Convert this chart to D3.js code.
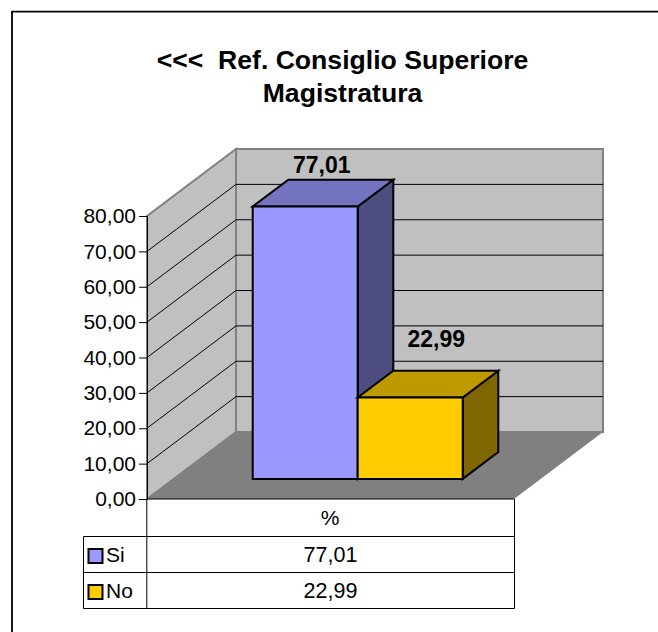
<!DOCTYPE html>
<html><head><meta charset="utf-8">
<script src="https://cdn.jsdelivr.net/npm/d3@7/dist/d3.min.js"></script>
<style>html,body{margin:0;padding:0;background:#fff}svg{display:block}text{font-family:"Liberation Sans",Arial,sans-serif;fill:#000}</style>
</head><body><script>
const titleLines = ["<<<  Ref. Consiglio Superiore", "Magistratura"];
const seriesNames = ["Si", "No"];
const seriesValues = [77.01, 22.99];
const categoryLabel = "%";
const yTicks = [0, 10, 20, 30, 40, 50, 60, 70, 80];
const frontColors = ["#9999ff", "#ffcc00"];
const topColors = ["#7373bf", "#bf9900"];
const sideColors = ["#4d4d80", "#806600"];

const fmt = v => v.toFixed(2).replace(".", ",");
const svg = d3.select("body").append("svg").attr("width", 658).attr("height", 632);
svg.append("path").attr("d", "M12,632V11.7H658").attr("fill", "none").attr("stroke", "#000").attr("stroke-width", 1.8);

const y = d3.scaleLinear().domain([0, 80]).range([499, 216]);
const x = d3.scaleBand().domain(seriesNames).range([226, 436]).padding(0);
const depth = {dx: 89, dy: -67};
const px = (xv, yv, f) => [xv + depth.dx * f, yv + depth.dy * f];
const poly = (pts, fill, stroke, sw) => svg.append("polygon").attr("points", pts.map(p => p.join(",")).join(" "))
  .attr("fill", fill).attr("stroke", stroke).attr("stroke-width", sw).attr("stroke-linejoin", "miter");

const xL = 147, xR = 514;
poly([px(xL,y(0),0),px(xL,y(80),0),px(xL,y(80),1),px(xL,y(0),1)], "#c0c0c0", "#808080", 2);
poly([px(xL,y(0),1),px(xL,y(80),1),px(xR,y(80),1),px(xR,y(0),1)], "#c0c0c0", "#808080", 2);
poly([px(xL,y(0),0),px(xL,y(0),1),px(xR,y(0),1),px(xR,y(0),0)], "#808080", "none", 0);
yTicks.filter(t => t > 0 && t < 80).forEach(t => {
  const a = px(xL,y(t),0), b = px(xL,y(t),1), c = px(xR,y(t),1);
  svg.append("polyline").attr("points", [a,b,c].map(p => p.join(",")).join(" "))
    .attr("fill","none").attr("stroke","#000").attr("stroke-width",1);
});
const axis = d3.axisLeft(y).tickValues(yTicks).tickFormat(fmt).tickSize(8).tickSizeOuter(0).tickPadding(3);
const gAxis = svg.append("g").attr("transform", `translate(${xL},0)`).call(axis);
gAxis.selectAll("text").attr("font-size", 21).style("font-family", '"Liberation Sans"').attr("fill", "#000");
gAxis.selectAll("path,line").attr("stroke", "#000");
const f0 = 0.3, f1 = 0.7, sw = 2;
[0, 1].forEach(i => {
  const n = seriesNames[i], v = seriesValues[i], l = x(n), r = l + x.bandwidth();
  const lo = y(0), hi = y(v);
  poly([px(r,lo,f0),px(r,hi,f0),px(r,hi,f1),px(r,lo,f1)], sideColors[i], "#000", sw);
  poly([px(l,hi,f0),px(r,hi,f0),px(r,hi,f1),px(l,hi,f1)], topColors[i], "#000", sw);
  poly([px(l,lo,f0),px(l,hi,f0),px(r,hi,f0),px(r,lo,f0)], frontColors[i], "#000", sw);
});
const labelOffset = [[69, -33], [78.5, -50.5]];
seriesNames.forEach((n, i) => {
  const p = px(x(n), y(seriesValues[i]), f0);
  svg.append("text").attr("x", p[0] + labelOffset[i][0]).attr("y", p[1] + labelOffset[i][1]).attr("text-anchor","middle")
    .attr("font-size", 23).attr("font-weight","bold").text(fmt(seriesValues[i]));
});
titleLines.forEach((t, i) => svg.append("text").attr("x", 342.5).attr("y", 69 + i * 33)
  .attr("text-anchor","middle").attr("font-size", 26.6).attr("font-weight","bold").attr("xml:space","preserve").style("white-space","pre").text(t));
const rowY = [499, 536.5, 572.5, 608.5], tL = 83.5, tC = 146.8, tR = 514.5;
const line = (a,b,c,d,col="#000") => svg.append("line").attr("x1",a).attr("y1",b).attr("x2",c).attr("y2",d).attr("stroke",col).attr("stroke-width",1);
line(tC,499,tC,608.5); line(tR,499,tR,608.5); line(tL,536.5,tL,608.5);
line(tC,499,tR,499); line(tL,536.5,tR,536.5); line(tL,572.5,tR,572.5); line(tL,608.5,tR,608.5);
svg.append("text").attr("x",330).attr("y",525).attr("text-anchor","middle").attr("font-size",21).text(categoryLabel);
seriesNames.forEach((n,i) => {
  const c = (rowY[i+1] + rowY[i+2]) / 2;
  svg.append("rect").attr("x",88.5).attr("y",c-5.5).attr("width",14).attr("height",14).attr("fill",frontColors[i]).attr("stroke","#000").attr("stroke-width",2);
  svg.append("text").attr("x",106).attr("y",c+7.5).attr("font-size",21).text(n);
  svg.append("text").attr("x",330.5).attr("y",c+7.5).attr("text-anchor","middle").attr("font-size",21.5).text(fmt(seriesValues[i]));
});
</script></body></html>
